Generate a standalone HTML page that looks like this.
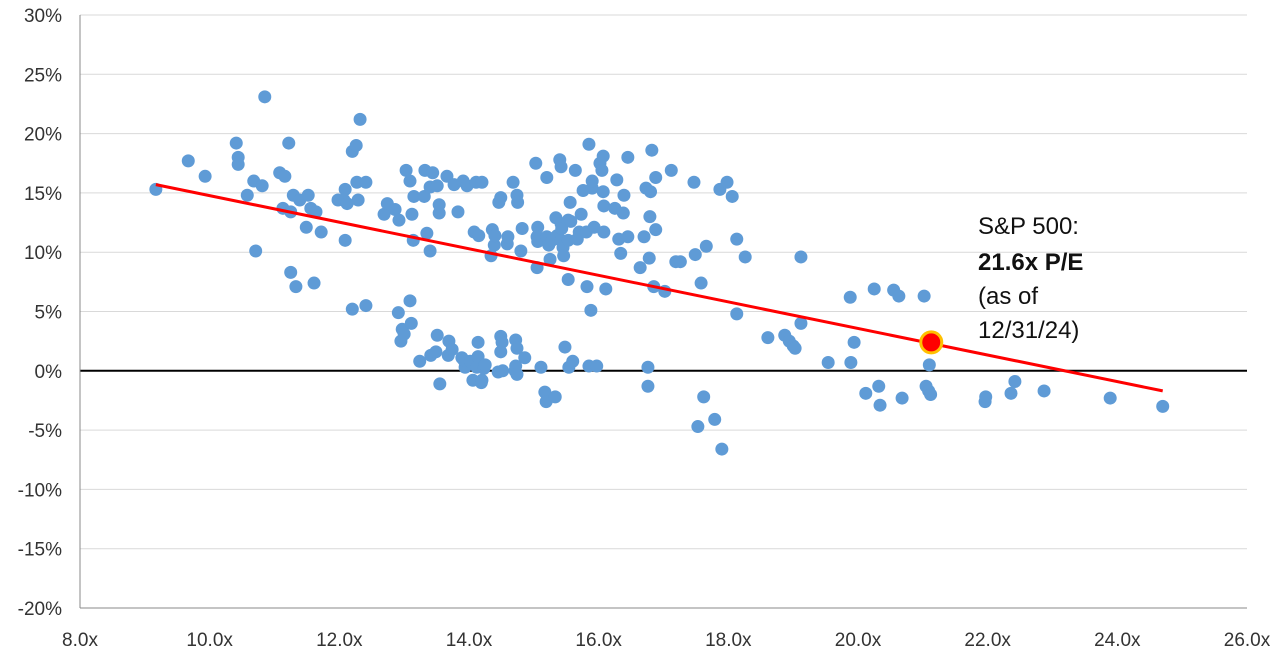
<!DOCTYPE html>
<html><head><meta charset="utf-8"><style>
html,body{margin:0;padding:0;background:#fff;}
svg{display:block;font-family:"Liberation Sans",sans-serif;}
</style></head><body>
<svg id="chart" width="1280" height="655" viewBox="0 0 1280 655" xmlns="http://www.w3.org/2000/svg">
<g id="grid"></g>
<g id="axes"></g>
<g id="pts"></g>
<g id="trend"></g>
<g id="hl"></g>
<g font-size="24" fill="#111">
<text x="978" y="234">S&amp;P 500:</text>
<text x="978" y="270" font-weight="bold">21.6x P/E</text>
<text x="978" y="304">(as of</text>
<text x="978" y="338">12/31/24)</text>
</g>
</svg>
<script>
const xTicks=[8,10,12,14,16,18,20,22,24,26];
const yTicks=[-20,-15,-10,-5,0,5,10,15,20,25,30];
const peValues=[9.17,9.67,9.93,10.41,10.44,10.44,10.58,10.68,10.71,10.81,10.85,11.08,11.16,11.13,11.22,11.25,11.29,11.25,11.33,11.39,11.49,11.52,11.56,11.64,11.61,11.72,11.98,12.09,12.07,12.09,12.12,12.20,12.26,12.20,12.27,12.29,12.32,12.41,12.41,12.69,12.74,12.86,12.91,12.95,12.92,12.97,13.0,13.03,13.09,13.09,13.11,13.12,13.14,13.15,13.24,13.31,13.32,13.35,13.40,13.40,13.44,13.41,13.49,13.51,13.54,13.54,13.51,13.55,13.66,13.69,13.68,13.74,13.77,13.83,13.91,13.89,13.94,13.92,13.97,14.02,14.06,14.08,14.11,14.12,14.14,14.14,14.15,14.19,14.20,14.20,14.23,14.25,14.34,14.36,14.39,14.40,14.46,14.49,14.45,14.49,14.51,14.49,14.52,14.59,14.60,14.68,14.71,14.72,14.72,14.74,14.74,14.75,14.74,14.80,14.82,14.86,15.03,15.05,15.06,15.05,15.06,15.11,15.17,15.19,15.20,15.20,15.23,15.28,15.25,15.33,15.34,15.36,15.40,15.42,15.42,15.42,15.43,15.45,15.46,15.48,15.53,15.53,15.56,15.53,15.54,15.60,15.57,15.64,15.67,15.70,15.73,15.76,15.81,15.82,15.85,15.85,15.88,15.90,15.90,15.93,15.97,16.02,16.05,16.07,16.07,16.08,16.08,16.11,16.25,16.28,16.31,16.34,16.38,16.39,16.45,16.45,16.64,16.70,16.73,16.76,16.76,16.78,16.79,16.80,16.82,16.85,16.88,16.88,17.02,17.12,17.19,17.26,17.47,17.49,17.53,17.58,17.62,17.66,17.79,17.87,17.90,17.98,18.06,18.13,18.13,18.26,18.61,18.87,18.94,19.00,19.03,19.12,19.12,19.54,19.88,19.89,19.94,20.12,20.25,20.32,20.34,20.55,20.63,20.68,21.02,21.05,21.09,21.10,21.12,21.96,21.97,22.36,22.42,22.87,23.89,24.70];
const returnValues=[15.3,17.7,16.4,19.2,18.0,17.4,14.8,16.0,10.1,15.6,23.1,16.7,16.4,13.7,19.2,13.4,14.8,8.3,7.1,14.4,12.1,14.8,13.7,13.4,7.4,11.7,14.4,15.3,14.4,11.0,14.1,18.5,19.0,5.2,15.9,14.4,21.2,5.5,15.9,13.2,14.1,13.6,4.9,2.5,12.7,3.5,3.1,16.9,16.0,5.9,4.0,13.2,11.0,14.7,0.8,14.7,16.9,11.6,15.5,10.1,16.7,1.3,1.6,3.0,13.3,14.0,15.6,-1.1,16.4,2.5,1.3,1.8,15.7,13.4,16.0,1.1,0.3,0.9,15.6,0.8,-0.8,11.7,15.9,0.3,2.4,1.2,11.4,-1.0,-0.8,15.9,0.2,0.5,9.7,11.9,10.6,11.4,14.2,14.6,-0.1,2.9,2.4,1.6,0,10.7,11.3,15.9,0,0.4,2.6,1.9,14.8,14.2,-0.3,10.1,12.0,1.1,17.5,8.7,12.1,11.3,10.9,0.3,-1.8,-2.6,16.3,11.3,10.6,11.0,9.4,-2.2,12.9,11.4,17.8,17.2,12.4,11.0,12.0,10.4,9.7,2.0,11.0,12.7,14.2,7.7,0.3,0.8,12.6,16.9,11.1,11.7,13.2,15.2,11.7,7.1,19.1,0.4,5.1,15.4,16.0,12.1,0.4,17.5,16.9,18.1,15.1,13.9,11.7,6.9,13.7,16.1,11.1,9.9,13.3,14.8,18.0,11.3,8.7,11.3,15.4,0.3,-1.3,9.5,13.0,15.1,18.6,7.1,16.3,11.9,6.7,16.9,9.2,9.2,15.9,9.8,-4.7,7.4,-2.2,10.5,-4.1,15.3,-6.6,15.9,14.7,4.8,11.1,9.6,2.8,3.0,2.5,2.1,1.9,4.0,9.6,0.7,6.2,0.7,2.4,-1.9,6.9,-1.3,-2.9,6.8,6.3,-2.3,6.3,-1.3,-1.7,0.5,-2.0,-2.6,-2.2,-1.9,-0.9,-1.7,-2.3,-3.0];
const trendRange=[9.17,24.70];
const trendCoef=[25.97,-1.12]; // intercept, slope
const highlight=[21.13,2.4];

const NS="http://www.w3.org/2000/svg";
const X0=80,X1=1247,Y0=608,Y1=15;
const xS=v=>X0+(v-8)/(26-8)*(X1-X0);
const yS=v=>Y0-(v+20)/50*(Y0-Y1);
function mk(tag,attrs,parent){const e=document.createElementNS(NS,tag);for(const k in attrs)e.setAttribute(k,attrs[k]);parent.appendChild(e);return e;}
const grid=document.getElementById('grid'),axes=document.getElementById('axes');
yTicks.forEach(t=>{
  const l=mk('line',{x1:X0,x2:X1,y1:yS(t),y2:yS(t),stroke:t===0?'#000':'#d9d9d9','stroke-width':t===0?2:1},grid);
  
  
  const tx=mk('text',{x:62,y:yS(t)+7,'text-anchor':'end','font-size':19,fill:'#333'},axes);
  tx.textContent=t+'%';
  
  
});
xTicks.forEach(t=>{
  const tx=mk('text',{x:xS(t),y:646,'text-anchor':'middle','font-size':19,fill:'#333'},axes);
  tx.textContent=t.toFixed(1)+'x';
  
  
});
const ya=mk('line',{x1:X0,x2:X0,y1:Y1,y2:Y0,stroke:'#888','stroke-width':1},axes);


const xa=mk('line',{x1:X0,x2:X1,y1:Y0,y2:Y0,stroke:'#888','stroke-width':1},axes);


const pts=document.getElementById('pts');
peValues.forEach((v,i)=>{
  const c=mk('circle',{cx:xS(v),cy:yS(returnValues[i]),r:6.5,fill:'#5f9bd6'},pts);
  
  
});
const tl=mk('line',{x1:xS(trendRange[0]),y1:yS(trendCoef[0]+trendCoef[1]*trendRange[0]),x2:xS(trendRange[1]),y2:yS(trendCoef[0]+trendCoef[1]*trendRange[1]),stroke:'#ff0000','stroke-width':3},document.getElementById('trend'));


const hc=mk('circle',{cx:xS(highlight[0]),cy:yS(highlight[1]),r:10.5,fill:'#ff0000',stroke:'#ffc000','stroke-width':3},document.getElementById('hl'));


</script>
</body></html>
